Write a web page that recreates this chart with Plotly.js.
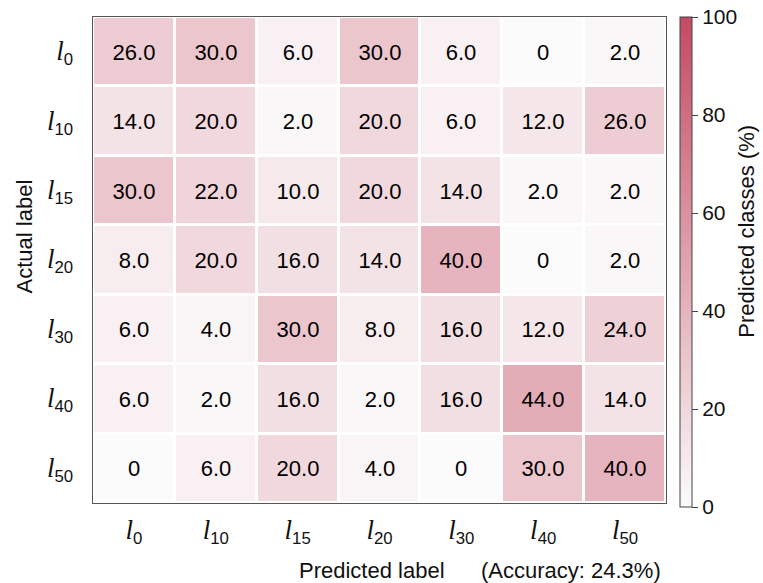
<!DOCTYPE html>
<html><head><meta charset="utf-8">
<script src="https://cdn.plot.ly/plotly-3.0.1.min.js"></script>
<style>html,body{margin:0;padding:0;background:#fff}</style>
</head><body>
<div id="chart" style="width:763px;height:583px"></div>
<script>
const classKeys = ['0','10','15','20','30','40','50'];
const predictedLabels = classKeys.map(k => '<span style="font-family:\'Liberation Serif\';font-style:italic;font-size:27px">l</span><sub>' + k + '</sub>');
const actualLabels = predictedLabels.slice();
const row_l0  = [26, 30, 6, 30, 6, 0, 2];
const row_l10 = [14, 20, 2, 20, 6, 12, 26];
const row_l15 = [30, 22, 10, 20, 14, 2, 2];
const row_l20 = [8, 20, 16, 14, 40, 0, 2];
const row_l30 = [6, 4, 30, 8, 16, 12, 24];
const row_l40 = [6, 2, 16, 2, 16, 44, 14];
const row_l50 = [0, 6, 20, 4, 0, 30, 40];
const z = [row_l0, row_l10, row_l15, row_l20, row_l30, row_l40, row_l50];
const cellText = z.map(r => r.map(v => v === 0 ? '0' : v.toFixed(1)));
const accuracy = 24.3;
const FONT = 'Liberation Sans, Arial, sans-serif';

const trace = {
  type: 'heatmap',
  x: predictedLabels,
  y: actualLabels,
  z: z,
  text: cellText,
  texttemplate: '%{text}',
  textfont: {family: FONT, size: 22, color: '#000'},
  zmin: 0, zmax: 100,
  xgap: 3, ygap: 3,
  colorscale: [[0, '#fbfbfb'], [1, '#c44a63']],
  hoverinfo: 'skip',
  colorbar: {
    x: 1.024, xanchor: 'left',
    y: 1, yanchor: 'top',
    lenmode: 'pixels', len: 490,
    thickness: 12, ypad: 0, xpad: 0,
    outlinewidth: 1, outlinecolor: '#444',
    ticks: 'outside', ticklen: 6, tickcolor: '#444',
    tickvals: [0, 20, 40, 60, 80, 100],
    tickfont: {family: FONT, size: 21, color: '#111'}
  }
};

const layout = {
  width: 763, height: 583,
  margin: {l: 93, r: 97, t: 17, b: 80},
  paper_bgcolor: '#fff', plot_bgcolor: '#fff',
  font: {family: FONT, color: '#111'},
  xaxis: {
    type: 'category',
    showline: true, mirror: true, linecolor: '#555', linewidth: 1,
    showgrid: false, zeroline: false, ticks: '',
    tickfont: {size: 24, color: '#111'},
    ticklabelstandoff: 6
  },
  yaxis: {
    type: 'category', autorange: 'reversed',
    showline: true, mirror: true, linecolor: '#555', linewidth: 1,
    showgrid: false, zeroline: false, ticks: '',
    tickfont: {size: 24, color: '#111'},
    ticklabelstandoff: 14
  },
  annotations: [
    {xref: 'paper', yref: 'paper', x: 0.487, y: -0.138, xanchor: 'center', yanchor: 'middle',
     text: 'Predicted label', showarrow: false, font: {family: FONT, size: 22, color: '#111'}},
    {xref: 'paper', yref: 'paper', x: 0.674, y: -0.138, xanchor: 'left', yanchor: 'middle',
     text: '(Accuracy: ' + accuracy + '%)', showarrow: false, font: {family: FONT, size: 22, color: '#111'}},
    {xref: 'paper', yref: 'paper', x: -0.120, y: 0.549, xanchor: 'center', yanchor: 'middle', textangle: -90,
     text: 'Actual label', showarrow: false, font: {family: FONT, size: 22, color: '#111'}},
    {xref: 'paper', yref: 'paper', x: 1.141, y: 0.560, xanchor: 'center', yanchor: 'middle', textangle: -90,
     text: 'Predicted classes (%)', showarrow: false, font: {family: FONT, size: 22, color: '#111'}}
  ]
};

Plotly.newPlot('chart', [trace], layout, {displayModeBar: false, staticPlot: true});
</script>
</body></html>
